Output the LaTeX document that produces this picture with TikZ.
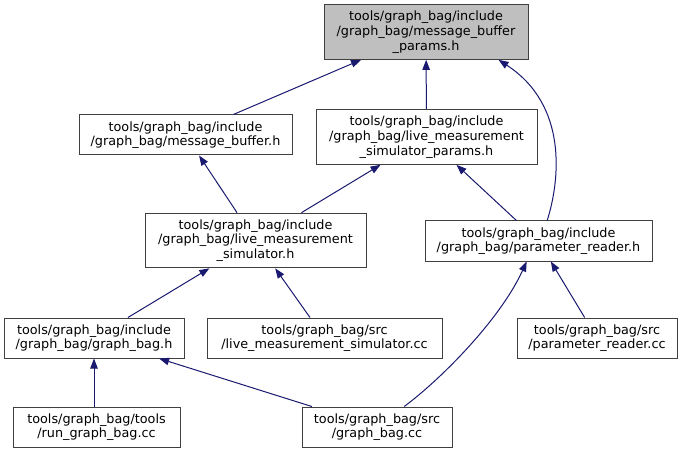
\documentclass[tikz,border=0pt]{standalone}
\usepackage{fontspec}
\setmainfont{DejaVu Sans}
\usepackage{tikz}
\usetikzlibrary{positioning,arrows.meta}
\definecolor{edgeblue}{HTML}{191970}
\definecolor{boxline}{HTML}{404040}
\definecolor{rootfill}{HTML}{BFBFBF}
\tikzset{
  incl/.style={-{Triangle[length=7.5pt, width=5.6pt]}, line width=0.75pt, edgeblue},
  filenode/.style={draw=boxline, line width=0.75pt, fill=white, minimum height=30pt, inner sep=2pt, align=center},
  filenodethree/.style={filenode, minimum height=41pt},
  rootnode/.style={filenodethree, fill=rootfill}
}

\begin{document}
\begin{tikzpicture}[x=0.75pt, y=-0.75pt, every node/.style={font=\fontsize{9.6}{11}\selectfont}]
  \useasboundingbox (0,0) rectangle (683,453);
  % header files
  \node[rootnode, minimum width=153pt] (bufparams) at (426,32) {tools/graph\_bag/include\\/graph\_bag/message\_buffer\\\_params.h};
  \node[filenode, minimum width=159.75pt] (buf) at (185.5,135) {tools/graph\_bag/include\\/graph\_bag/message\_buffer.h};
  \node[filenodethree, minimum width=165.75pt] (simparams) at (426.5,137) {tools/graph\_bag/include\\/graph\_bag/live\_measurement\\\_simulator\_params.h};
  \node[filenodethree, minimum width=165.75pt] (sim) at (255.5,240.5) {tools/graph\_bag/include\\/graph\_bag/live\_measurement\\\_simulator.h};
  \node[filenode, minimum width=170.25pt] (reader) at (538.5,241) {tools/graph\_bag/include\\/graph\_bag/parameter\_reader.h};
  \node[filenode, minimum width=135pt] (bag) at (94,338) {tools/graph\_bag/include\\/graph\_bag/graph\_bag.h};
  % sources
  \node[filenode, minimum width=176.25pt] (simcc) at (324.5,338) {tools/graph\_bag/src\\/live\_measurement\_simulator.cc};
  \node[filenode, minimum width=120pt] (readercc) at (597,338) {tools/graph\_bag/src\\/parameter\_reader.cc};
  \node[filenode, minimum width=125.25pt] (runbag) at (96.5,427) {tools/graph\_bag/tools\\/run\_graph\_bag.cc};
  \node[filenode, minimum width=112.5pt] (bagcc) at (377,427) {tools/graph\_bag/src\\/graph\_bag.cc};

  \draw[incl] (buf) -- (bufparams);
  \draw[incl] (simparams) -- (bufparams);
  \draw[incl] (reader.67) .. controls (560,180) and (568,105) .. (bufparams.-21);
  \draw[incl] (sim) -- (buf);
  \draw[incl] (sim) -- (simparams);
  \draw[incl] (reader) -- (simparams);
  \draw[incl] (bag) -- (sim);
  \draw[incl] (simcc) -- (sim);
  \draw[incl] (readercc) -- (reader);
  \draw[incl] (bagcc.37.6) .. controls (440,380) and (500,320) .. (reader.-120);
  \draw[incl] (runbag.north -| bag.south) -- (bag);
  \draw[incl] (bagcc) -- (bag);
\end{tikzpicture}
\end{document}
